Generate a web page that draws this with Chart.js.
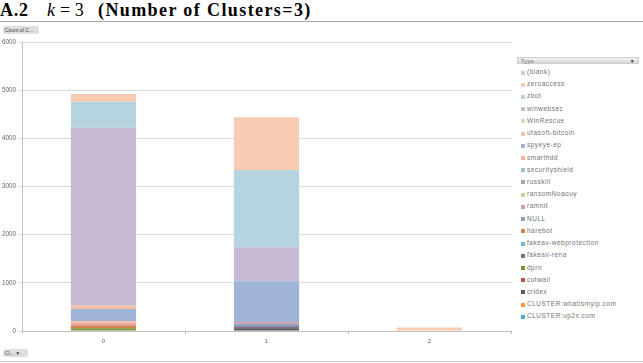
<!DOCTYPE html>
<html>
<head>
<meta charset="utf-8">
<script src="https://cdn.jsdelivr.net/npm/chart.js@4/dist/chart.umd.min.js"></script>
<style>
    body { margin: 0; width: 643px; height: 363px; background: #fff; position: relative; overflow: hidden; font-family: "Liberation Sans", Arial, sans-serif; }
    #title { position: absolute; left: 0; top: 0; height: 20px; font-family: "Liberation Serif", serif; font-size: 18px; white-space: nowrap; color: #000; }
    #title span { position: absolute; top: 0; }
    .rule { position: absolute; left: 0; width: 643px; height: 1px; background: #a8a8a8; }
    .btn { position: absolute; background: #dedede; border-radius: 2px; font-size: 5px; line-height: 8px; color: #444; padding-left: 2px; box-sizing: border-box; white-space: nowrap; overflow: hidden; }
    #chartWrap { position: absolute; left: 0; top: 30px; width: 512px; height: 321px; }
    #legendHead { position: absolute; left: 517px; top: 57px; width: 122px; height: 7px; background: linear-gradient(#f4f4f4, #d6d6d6); border: 1px solid #cfcfcf; box-sizing: border-box; font-size: 5.5px; line-height: 6px; color: #777; padding-left: 3px; letter-spacing: 0.3px; }
    #legendHead b { position: absolute; right: 3px; top: 0; font-size: 5px; color: #333; }
    #legend { position: absolute; left: 521px; top: 68px; margin: 0; padding: 0; list-style: none; }
    #legend li { height: 12.23px; font-size: 6.5px; line-height: 8px; color: #737373; white-space: nowrap; letter-spacing: 0.5px; }
    #legend i { display: inline-block; width: 4px; height: 4px; margin-right: 2px; vertical-align: -0.5px; }
</style>
</head>
<body>
<div id="title">
    <span style="left:0;font-weight:bold;letter-spacing:0.8px;">A.2</span>
    <span style="left:47px;font-style:italic;">k</span>
    <span style="left:60px;">= 3</span>
    <span style="left:98px;font-weight:bold;letter-spacing:1.4px;">(Number of Clusters=3)</span>
</div>
<div class="rule" style="top:21px;"></div>
<div class="btn" style="left:3px;top:26px;width:36px;height:8px;">Count of C...</div>
<div id="chartWrap"><canvas id="c"></canvas></div>
<div class="btn" style="left:3px;top:349px;width:25px;height:8px;">Cl... &#9660;</div>
<div class="rule" style="top:361px;background:#c8c8c8;"></div>
<div id="legendHead">Type<b>&#9660;</b></div>
<ul id="legend"></ul>
<script>
    // 클러스터(카테고리)
    const categories = ['0', '1', '2'];

    // 시리즈 이름 (아래에서 위로 쌓이는 순서)
    const seriesNames = [
        'CLUSTER:up2x.com', 'CLUSTER:whatismyip.com', 'cridex', 'cutwail', 'dprn',
        'fakeav-rena', 'fakeav-webprotection', 'harebot', 'NULL', 'ramnit',
        'ransomNoaouy', 'russkill', 'securityshield', 'smarthdd', 'spyeye-ep',
        'ufasoft-bitcoin', 'WinRescue', 'winwebsec', 'zbot', 'zeroaccess', '(blank)'
    ];

    // 각 클러스터의 시리즈별 개수 (seriesNames 순서)
    const cluster0 = [0, 0, 0, 0, 55, 0, 0, 60, 0, 40, 0, 0, 0, 45, 255, 75, 0, 3690, 540, 160, 0];
    const cluster1 = [0, 0, 40, 0, 0, 60, 0, 0, 50, 35, 0, 0, 0, 0, 850, 0, 0, 705, 1600, 1100, 0];
    const cluster2 = [0, 0, 0, 0, 0, 0, 0, 0, 0, 0, 0, 0, 0, 0, 0, 0, 0, 0, 0, 75, 0];

    const yTicks = [0, 1000, 2000, 3000, 4000, 5000, 6000];

    const seriesColors = [
        '#4bacc6', '#f79646', '#5f5a5a', '#c0504d', '#77933c',
        '#7a7284', '#6fb7cf', '#d4834a', '#8ea3c2', '#d99aa2',
        '#c5d59b', '#a6a6a6', '#9cc0d6', '#f7b594', '#9db4d6',
        '#f3c1aa', '#d5d9c6', '#c6bad3', '#b6d4df', '#f8cbb3', '#cfcfcf'
    ];

    const datasets = seriesNames.map((name, i) => ({
        label: name,
        data: [cluster0[i], cluster1[i], cluster2[i]],
        backgroundColor: seriesColors[i],
        borderWidth: 0,
        categoryPercentage: 1,
        barPercentage: 0.4,
    }));

    // 범례 (위에서부터 역순)
    const legendEl = document.getElementById('legend');
    for (let i = seriesNames.length - 1; i >= 0; i--) {
        const li = document.createElement('li');
        li.innerHTML = '<i style="background:' + seriesColors[i] + '"></i>';
        li.appendChild(document.createTextNode(seriesNames[i]));
        legendEl.appendChild(li);
    }

    new Chart(document.getElementById('c'), {
        type: 'bar',
        data: { labels: categories, datasets },
        options: {
            responsive: true,
            maintainAspectRatio: false,
            animation: false,
            layout: { padding: { top: 12, right: 1, left: 0, bottom: 0 } },
            plugins: { legend: { display: false }, tooltip: { enabled: false } },
            scales: {
                x: {
                    stacked: true,
                    ticks: { color: '#666', font: { size: 6, family: 'Liberation Sans' }, padding: 4 },
                    grid: { display: true, drawOnChartArea: false, offset: true, tickLength: 3, color: '#bfbfbf' },
                    border: { color: '#bfbfbf' },
                    afterFit: s => { s.height = 20; },
                },
                y: {
                    stacked: true,
                    min: 0,
                    max: 6000,
                    afterBuildTicks: s => { s.ticks = yTicks.map(v => ({ value: v })); },
                    ticks: { color: '#666', font: { size: 6.3, family: 'Liberation Sans' }, padding: 2, callback: v => String(v) },
                    grid: { color: '#d9d9d9', tickLength: 4 },
                    border: { color: '#bfbfbf' },
                    afterFit: s => { s.width = 22; },
                },
            },
        },
    });
</script>
</body>
</html>
